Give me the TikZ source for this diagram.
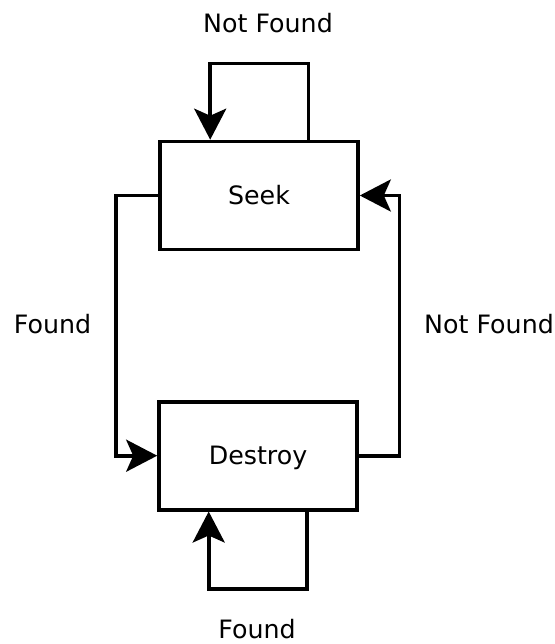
\documentclass[tikz,border=0pt]{standalone}
\usepackage{fontspec}
\setmainfont{DejaVu Sans}
\usetikzlibrary{arrows.meta}
\tikzset{
  statebox/.style={draw, line width=3.6pt, minimum width=198pt, minimum height=108pt,
    inner sep=0pt, text height=18.4pt, text depth=0pt, font=\fontsize{25.3}{30}\selectfont},
  conn/.style={line width=3.6pt, -{Stealth[length=31pt, width=32pt, inset=7pt]}},
  lbl/.style={anchor=base, inner sep=0pt, font=\fontsize{25.3}{30}\selectfont}
}
\begin{document}
\begin{tikzpicture}[x=1pt, y=-1pt]
  \useasboundingbox (0,0) rectangle (554,644);

  % states
  \node[statebox] (seek) at (259,195.5) {Seek};
  \node[statebox] (destroy) at (258,455.7) {Destroy};

  % corner points of the routed connectors
  \coordinate (seekloopR) at (308.6,63.7);
  \coordinate (seekloopL) at (210.2,63.7);
  \coordinate (leftx) at (115.7,0);
  \coordinate (rightx) at (399.5,0);
  \coordinate (destloopR) at (307.2,588.7);
  \coordinate (destloopL) at (208.7,588.7);

  % transitions
  \draw[conn] (seek.north -| seekloopR) -- (seekloopR) -- (seekloopL) -- (seek.north -| seekloopL);
  \draw[conn] (seek.west) -- (seek.west -| leftx) |- (destroy.west);
  \draw[conn] (destroy.east) -- (destroy.east -| rightx) |- (seek.east);
  \draw[conn] (destroy.south -| destloopR) -- (destloopR) -- (destloopL) -- (destroy.south -| destloopL);

  % transition labels
  \node[lbl] (lblseek) at (268,33) {Not Found};
  \node[lbl] (lblfound) at (52.5,333) {Found};
  \node[lbl] (lblnot) at (489,333) {Not Found};
  \node[lbl] (lbldest) at (257,638.5) {Found};
\end{tikzpicture}
\end{document}
